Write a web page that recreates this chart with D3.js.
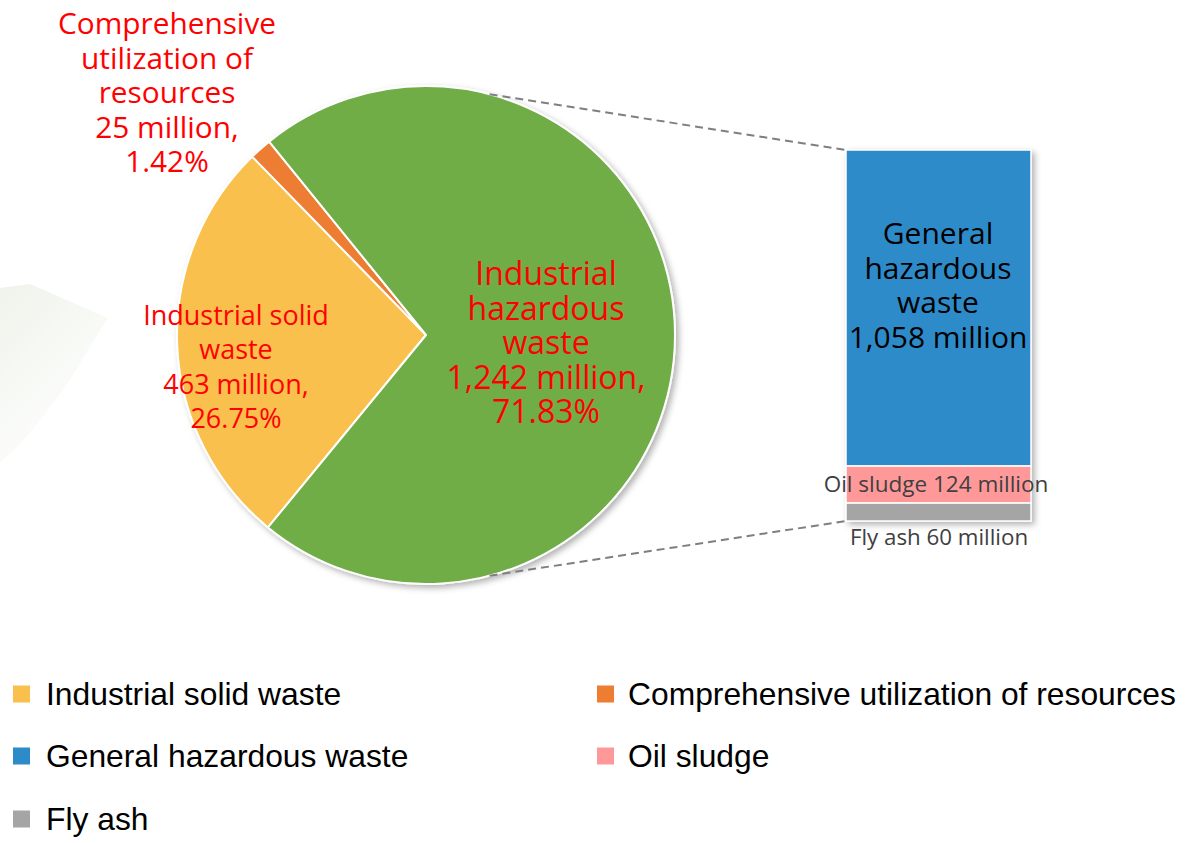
<!DOCTYPE html>
<html><head><meta charset="utf-8">
<script src="https://cdn.jsdelivr.net/npm/d3@7"></script>
<style>body{margin:0;background:#fff}svg{display:block}</style>
</head><body>
<svg id="chart" width="1191" height="843"></svg>
<script>
// ---- data ----
const pieCategories = ["Industrial solid waste", "Comprehensive utilization of resources", "Industrial hazardous waste"];
const pieValues = [463, 25, 1242];
const piePercents = ["26.75%", "1.42%", "71.83%"];
const barCategories = ["General hazardous waste", "Oil sludge", "Fly ash"];
const barValues = [1058, 124, 60];
const legendLabels = ["Industrial solid waste", "Comprehensive utilization of resources", "General hazardous waste", "Oil sludge", "Fly ash"];
const colors = {
  "Industrial solid waste": "#F9C04E",
  "Comprehensive utilization of resources": "#ED7D31",
  "Industrial hazardous waste": "#70AD47",
  "General hazardous waste": "#2E8BC9",
  "Oil sludge": "#FF9999",
  "Fly ash": "#A5A5A5"
};

const svg = d3.select("#chart");
const defs = svg.append("defs");
const f = defs.append("filter").attr("id","shadow").attr("x","-10%").attr("y","-10%").attr("width","130%").attr("height","130%");
f.append("feDropShadow").attr("dx",3).attr("dy",3).attr("stdDeviation",3).attr("flood-color","#000").attr("flood-opacity",0.3);
const lg = defs.append("linearGradient").attr("id","leaf").attr("x1","0").attr("y1","0").attr("x2","0.6").attr("y2","1");
lg.append("stop").attr("offset","0").attr("stop-color","#e8eee2");
lg.append("stop").attr("offset","1").attr("stop-color","#ffffff");

// faint background leaf
svg.append("path")
  .attr("d","M0,288 L30,284 L108,318 C90,345 70,385 40,420 C25,440 10,455 0,462 Z")
  .attr("fill","url(#leaf)").attr("opacity",0.7);

// ---- pie ----
const cx = 426, cy = 335, R = 249;
const startA = 219.4 * Math.PI / 180;
const pie = d3.pie().sort(null).value(d => d.v).startAngle(startA).endAngle(startA + 2*Math.PI);
const pieData = pie(pieCategories.map((c,i)=>({c, v: pieValues[i], p: piePercents[i]})));
const arc = d3.arc().innerRadius(0).outerRadius(R);
const pg = svg.append("g").attr("transform",`translate(${cx},${cy})`);
pg.append("g").attr("filter","url(#shadow)")
  .selectAll("path").data(pieData).join("path")
  .attr("d", arc)
  .attr("fill", d => colors[d.data.c])
  .attr("stroke","#fff").attr("stroke-width",2).attr("stroke-linejoin","round");

// ---- bar (stacked) ----
const barX = 846, barW = 185, barTop = 150;
const total = d3.sum(barValues);
const y = d3.scaleLinear().domain([0,total]).range([barTop, barTop + 371]);
let acc = 0;
const barData = barCategories.map((c,i)=>{ const d={c, v:barValues[i], y0:acc, y1:acc+barValues[i]}; acc+=barValues[i]; return d; });
const bg = svg.append("g").attr("filter","url(#shadow)");
bg.selectAll("rect").data(barData).join("rect")
  .attr("x", barX).attr("width", barW)
  .attr("y", d => y(d.y0)).attr("height", d => y(d.y1) - y(d.y0))
  .attr("fill", d => colors[d.c]).attr("stroke","#fff").attr("stroke-width",1.5);

// ---- connector lines ----
function ptOnPie(deg){ const a = deg*Math.PI/180; return [cx + R*Math.sin(a), cy - R*Math.cos(a)]; }
const p1 = ptOnPie(14.8), p2 = ptOnPie(165.2);
svg.append("line").attr("x1",p1[0]).attr("y1",p1[1]).attr("x2",barX).attr("y2",y(0))
  .attr("stroke","#7f7f7f").attr("stroke-width",2).attr("stroke-dasharray","8,5");
svg.append("line").attr("x1",p2[0]).attr("y1",p2[1]).attr("x2",barX).attr("y2",y(total))
  .attr("stroke","#7f7f7f").attr("stroke-width",2).attr("stroke-dasharray","8,5");

// ---- labels ----
const labFont = "'Open Sans', 'Noto Sans', sans-serif";
function multi(lines, x, y0, size, color, lh){
  const t = svg.append("text").attr("text-anchor","middle").attr("font-family",labFont)
    .attr("font-size",size).attr("fill",color);
  lines.forEach((l,i)=> t.append("tspan").attr("x",x).attr("y",y0 + i*lh).text(l));
}
const fmt = d3.format(",");
multi(["Comprehensive","utilization of","resources", fmt(pieValues[1])+" million,", piePercents[1]], 167, 34, 29.8, "#FF0000", 34.5);
multi(["Industrial solid","waste", fmt(pieValues[0])+" million,", piePercents[0]], 236, 325, 27, "#FF0000", 34.3);
multi(["Industrial","hazardous","waste", fmt(pieValues[2])+" million,", piePercents[2]], 546, 285, 32, "#FF0000", 34.5);
multi(["General","hazardous","waste", fmt(barValues[0])+" million"], 938, 244, 30, "#000", 34.6);
multi(["Oil sludge "+fmt(barValues[1])+" million"], 936, 492, 22.5, "#404040", 0);
multi(["Fly ash "+fmt(barValues[2])+" million"], 939, 545, 22.3, "#404040", 0);

// ---- legend ----
const legX = [13, 597], legTextX = [46, 628], legY = [694, 756, 819];
const lgG = svg.append("g");
legendLabels.forEach((l,i)=>{
  const col = i % 2, row = Math.floor(i/2);
  const gx = legX[col], gy = legY[row];
  lgG.append("rect").attr("x",gx).attr("y",gy-8.5).attr("width",17).attr("height",17).attr("fill",colors[l]);
  lgG.append("text").attr("x",legTextX[col]).attr("y",gy).attr("dy","0.35em")
    .attr("font-family","'Liberation Sans', Arial, sans-serif").attr("font-size",31.8).attr("fill","#000").text(l);
});
</script>
</body></html>
